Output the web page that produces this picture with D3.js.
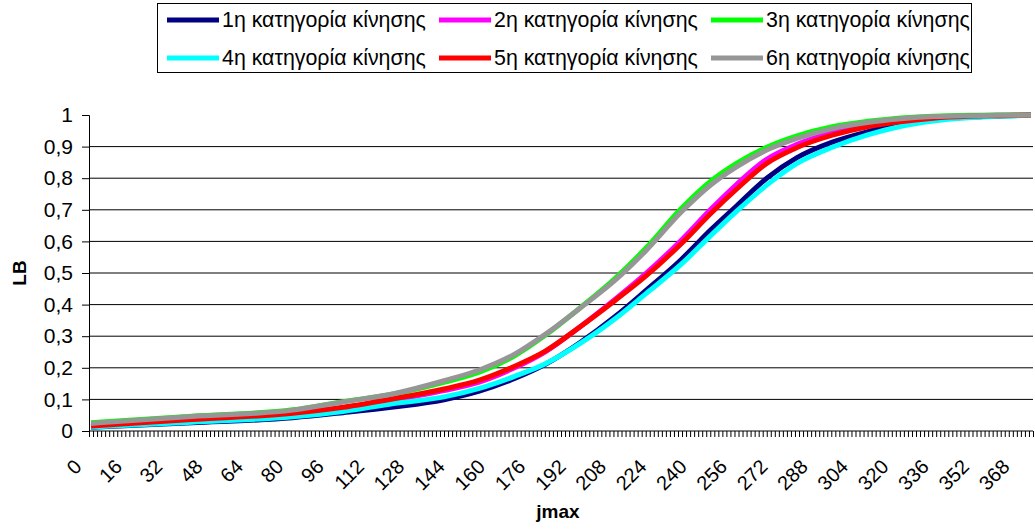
<!DOCTYPE html>
<html>
<head>
<meta charset="utf-8">
<script src="https://cdn.jsdelivr.net/npm/d3@7"></script>
<style>
  body { margin: 0; background: #fff; }
  svg { display: block; }
  text { font-family: "Liberation Sans", Arial, sans-serif; fill: #000; }
</style>
</head>
<body>
<svg id="chart" width="1035" height="530"></svg>
<script>
// Series labels, one per movement category
const seriesNames = [
  "1η κατηγορία κίνησης",
  "2η κατηγορία κίνησης",
  "3η κατηγορία κίνησης",
  "4η κατηγορία κίνησης",
  "5η κατηγορία κίνησης",
  "6η κατηγορία κίνησης"
];

// jmax positions at which LB is sampled
const jmax = [0, 40, 80, 100, 120, 140, 154, 168, 180, 194, 208, 220, 234, 246, 256, 268, 280, 294, 308, 320, 334, 348, 360, 372.8];

// LB per category
const lb1 = [0.012, 0.026, 0.042, 0.058, 0.076, 0.099, 0.126, 0.166, 0.21, 0.28, 0.363, 0.444, 0.542, 0.638, 0.712, 0.80, 0.865, 0.914, 0.947, 0.969, 0.985, 0.993, 0.997, 1.0];
const lb2 = [0.015, 0.034, 0.053, 0.072, 0.098, 0.128, 0.155, 0.2, 0.25, 0.33, 0.418, 0.498, 0.603, 0.703, 0.78, 0.86, 0.907, 0.944, 0.968, 0.982, 0.992, 0.997, 0.999, 1.0];
const lb3 = [0.026, 0.047, 0.067, 0.093, 0.117, 0.154, 0.186, 0.238, 0.302, 0.39, 0.484, 0.578, 0.703, 0.792, 0.847, 0.898, 0.934, 0.963, 0.98, 0.99, 0.996, 0.999, 1.0, 1.0];
const lb4 = [0.013, 0.028, 0.045, 0.062, 0.087, 0.108, 0.135, 0.173, 0.212, 0.277, 0.356, 0.434, 0.527, 0.62, 0.695, 0.778, 0.847, 0.898, 0.937, 0.962, 0.981, 0.991, 0.996, 0.999];
const lb5 = [0.016, 0.036, 0.056, 0.075, 0.102, 0.133, 0.161, 0.205, 0.252, 0.33, 0.414, 0.49, 0.592, 0.69, 0.765, 0.847, 0.897, 0.936, 0.963, 0.978, 0.99, 0.996, 0.998, 1.0];
const lb6 = [0.024, 0.046, 0.066, 0.092, 0.118, 0.159, 0.193, 0.243, 0.305, 0.389, 0.478, 0.57, 0.692, 0.78, 0.836, 0.889, 0.926, 0.957, 0.976, 0.987, 0.995, 0.998, 0.999, 1.0];

// Axis ticks
const xTickLabels = [0, 16, 32, 48, 64, 80, 96, 112, 128, 144, 160, 176, 192, 208, 224, 240, 256, 272, 288, 304, 320, 336, 352, 368];
const yTicks = [0, 0.1, 0.2, 0.3, 0.4, 0.5, 0.6, 0.7, 0.8, 0.9, 1];
const categoryStep = 1.6;
const categoryCount = 234;

// ---- styling / layout ----
const colors = ["#000080", "#FF00FF", "#00FF00", "#00FFFF", "#FF0000", "#969696"];
const seriesValues = [lb1, lb2, lb3, lb4, lb5, lb6];

const svg = d3.select("#chart");
const plot = { left: 89, right: 1033, top: 115, bottom: 431 };

const x = d3.scaleLinear()
  .domain([-categoryStep / 2, -categoryStep / 2 + categoryStep * categoryCount])
  .range([plot.left, plot.right]);
const y = d3.scaleLinear().domain([0, 1]).range([plot.bottom, plot.top]);

const fmt = d3.formatLocale({ decimal: ",", thousands: ".", grouping: [3], currency: ["", ""] }).format("~g");

// horizontal gridlines (no line at 1)
svg.append("g")
  .selectAll("line")
  .data(yTicks.filter(v => v > 0 && v < 1))
  .join("line")
  .attr("x1", plot.left).attr("x2", plot.right)
  .attr("y1", d => y(d)).attr("y2", d => y(d))
  .attr("stroke", "#000").attr("stroke-width", 1);

// y axis
const yAxis = svg.append("g")
  .attr("transform", `translate(${plot.left},0)`)
  .call(d3.axisLeft(y).tickValues(yTicks).tickSize(7).tickPadding(9).tickFormat(fmt));
yAxis.select(".domain").attr("stroke", "#000");
yAxis.selectAll(".tick line").attr("stroke", "#000");
yAxis.selectAll(".tick text")
  .style("font-size", "21px")
  .style("font-family", "'Liberation Sans', Arial, sans-serif")
  .attr("fill", "#000");

// x axis: small tick marks between categories
const boundaries = d3.range(categoryCount + 1).map(i => -categoryStep / 2 + i * categoryStep);
const xAxis = svg.append("g")
  .attr("transform", `translate(0,${plot.bottom})`)
  .call(d3.axisBottom(x).tickValues(boundaries).tickSize(6).tickFormat(""));
xAxis.select(".domain").attr("stroke", "#000").attr("d", `M${plot.left},0H${plot.right}`);
xAxis.selectAll(".tick line").attr("stroke", "#000");

// rotated category labels
svg.append("g")
  .selectAll("text")
  .data(xTickLabels)
  .join("text")
  .attr("transform", d => `translate(${x(d) - 13},${plot.bottom + 32}) rotate(-45)`)
  .attr("text-anchor", "end")
  .attr("dy", "0.35em")
  .style("font-size", "20px")
  .text(d => d);

// axis titles
svg.append("text")
  .attr("transform", `translate(26,${(plot.top + plot.bottom) / 2}) rotate(-90)`)
  .attr("text-anchor", "middle")
  .style("font-size", "19px").style("font-weight", "bold")
  .text("LB");
svg.append("text")
  .attr("x", (plot.left + plot.right) / 2 - 3)
  .attr("y", 518)
  .attr("text-anchor", "middle")
  .style("font-size", "19px").style("font-weight", "bold")
  .text("jmax");

// curves
const line = d3.line()
  .x((d, i) => x(jmax[i]))
  .y(d => y(d))
  .curve(d3.curveMonotoneX);

svg.append("g")
  .selectAll("path")
  .data(seriesValues)
  .join("path")
  .attr("d", d => line(d))
  .attr("fill", "none")
  .attr("stroke", (d, i) => colors[i])
  .attr("stroke-width", 5)
  .attr("stroke-linejoin", "round");

// legend
const legend = svg.append("g");
legend.append("rect")
  .attr("x", 157.5).attr("y", 3.5).attr("width", 814).attr("height", 69)
  .attr("fill", "#fff").attr("stroke", "#000");
const colX = [167, 439, 711];
const rowY = [20, 58];
seriesNames.forEach((name, i) => {
  const cx = colX[i % 3], cy = rowY[Math.floor(i / 3)];
  legend.append("line")
    .attr("x1", cx).attr("x2", cx + 52)
    .attr("y1", cy).attr("y2", cy)
    .attr("stroke", colors[i]).attr("stroke-width", 5);
  const t = legend.append("text")
    .attr("x", cx + 55).attr("y", cy)
    .attr("dy", "0.35em")
    .style("font-size", "20px")
    .text(name);
  const w = t.node().getComputedTextLength();
  t.style("font-size", (20 * 204 / w) + "px");
});
</script>
</body>
</html>
